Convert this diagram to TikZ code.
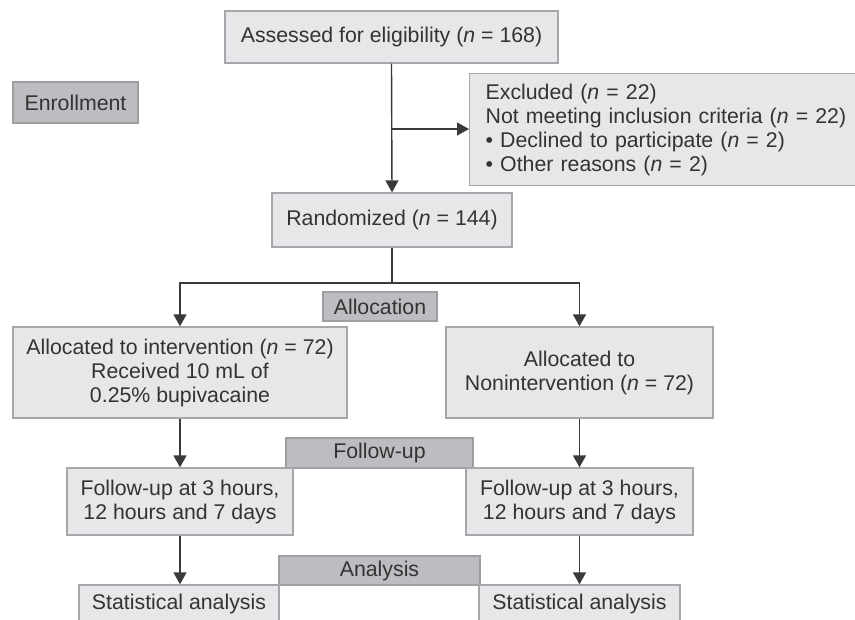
\documentclass[tikz,border=0pt]{standalone}
\usepackage{fontspec}
\setmainfont{Liberation Sans}
\usetikzlibrary{arrows.meta}
\definecolor{boxfill}{HTML}{E6E7E8}
\definecolor{boxline}{HTML}{A5A7AA}
\definecolor{labfill}{HTML}{BCBDC0}
\definecolor{labline}{HTML}{9C9EA1}
\definecolor{conn}{HTML}{3A3A3A}
\definecolor{txt}{HTML}{333333}
\newcommand{\nn}{\textit{n}}
\tikzset{
  every node/.style={text=txt, font=\fontsize{21.3}{24}\selectfont},
  flowbox/.style={draw=boxline, fill=boxfill, line width=1.3pt, inner sep=0pt, align=center},
  stagebox/.style={draw=labline, fill=labfill, line width=1.3pt, inner sep=0pt, align=center},
  conline/.style={draw=conn, line width=1.4pt},
  arr/.style={conline, -{Triangle[width=13pt,length=12pt]}},
}
\begin{document}
\begin{tikzpicture}[x=1pt,y=-1pt]
\clip (0,0) rectangle (855,620);
\fill[white] (0,0) rectangle (855,620);
% boxes
\node[flowbox, minimum width=333, minimum height=52] (assess) at (391.5,37) {Assessed for eligibility (\nn{} = 168)};
\node[stagebox, minimum width=125, minimum height=41] (enrol) at (75.5,102.5) {Enrollment};
\node[flowbox, anchor=north west, minimum height=112, text width=380, inner xsep=16pt, align=left] (excl) at (469,73) {Excluded (\nn{} = 22)\\Not meeting inclusion criteria (\nn{} = 22)\\\textbullet\ Declined to participate (\nn{} = 2)\\\textbullet\ Other reasons (\nn{} = 2)};
\node[flowbox, minimum width=240, minimum height=54] (rand) at (392,220) {Randomized (\nn{} = 144)};
\node[stagebox, minimum width=114, minimum height=29] (alloc) at (380,306.5) {Allocation};
\node[flowbox, minimum width=334, minimum height=91] (left) at (180,372.5) {Allocated to intervention (\nn{} = 72)\\Received 10 mL of\\0.25\% bupivacaine};
\node[flowbox, minimum width=267, minimum height=91] (right) at (579.5,372.5) {Allocated to\\Nonintervention (\nn{} = 72)};
\node[stagebox, minimum width=187, minimum height=30] (fu) at (379.5,453) {Follow-up};
\node[flowbox, minimum width=226, minimum height=67] (lfu) at (180,501.5) {Follow-up at 3 hours,\\12 hours and 7 days};
\node[flowbox, minimum width=227, minimum height=67] (rfu) at (579.5,501.5) {Follow-up at 3 hours,\\12 hours and 7 days};
\node[stagebox, minimum width=201, minimum height=29] (ana) at (379.5,570.5) {Analysis};
\node[flowbox, minimum width=200, minimum height=38] (lsa) at (179,604) {Statistical analysis};
\node[flowbox, minimum width=201, minimum height=38] (rsa) at (579.5,604) {Statistical analysis};
% connectors
\coordinate (br1) at (assess.south |- 0,129);
\coordinate (br2) at (rand.south |- 0,283);
\draw[arr] (assess.south) -- (rand.north);
\draw[arr] (br1) -- (br1 -| excl.west);
\draw[conline] (rand.south) -- (br2);
\draw[arr] (br2) -| (left.north);
\draw[arr] (br2) -| (right.north);
\draw[arr] (left.south) -- (lfu.north);
\draw[arr] (right.south) -- (right.south |- rfu.north);
\draw[arr] (lfu.south) -- (lfu.south |- lsa.north);
\draw[arr] (rfu.south) -- (rfu.south |- rsa.north);
\end{tikzpicture}
\end{document}
